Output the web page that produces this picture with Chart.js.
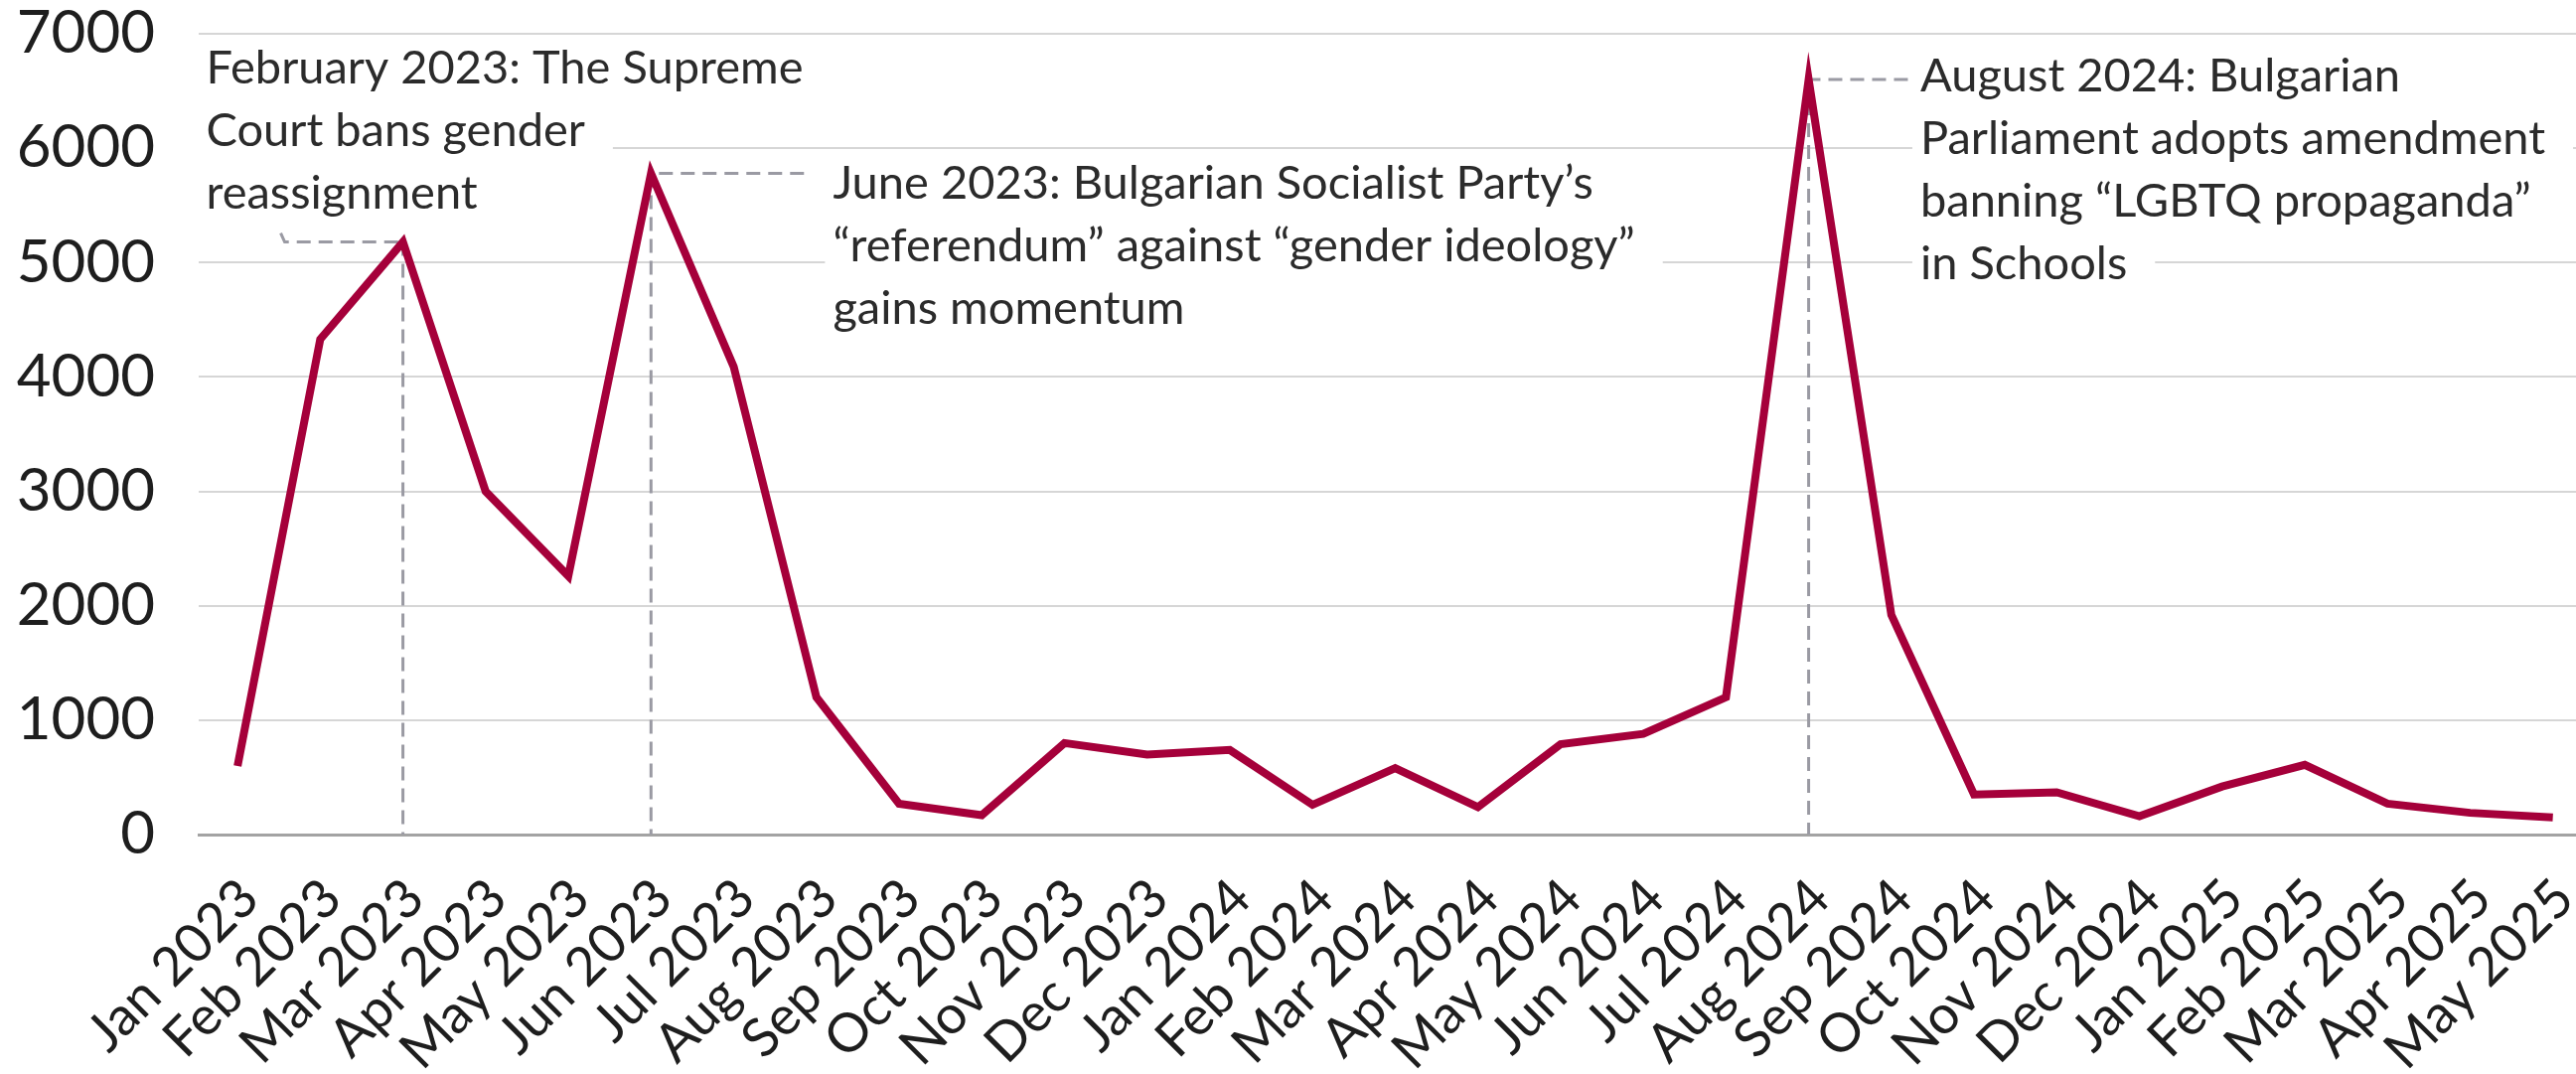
<!DOCTYPE html>
<html>
<head>
<meta charset="utf-8">
<script src="https://cdn.jsdelivr.net/npm/chart.js@4.4.1/dist/chart.umd.min.js"></script>
<style>
  html, body { margin:0; padding:0; background:#fff; }
  #wrap { width:2593px; height:1081px; }
</style>
</head>
<body>
<div id="wrap"><canvas id="chart" width="2593" height="1081"></canvas></div>
<script>
// months on the x axis
const months = [
  'Jan 2023','Feb 2023','Mar 2023','Apr 2023','May 2023','Jun 2023','Jul 2023','Aug 2023','Sep 2023','Oct 2023','Nov 2023','Dec 2023',
  'Jan 2024','Feb 2024','Mar 2024','Apr 2024','May 2024','Jun 2024','Jul 2024','Aug 2024','Sep 2024','Oct 2024','Nov 2024','Dec 2024',
  'Jan 2025','Feb 2025','Mar 2025','Apr 2025','May 2025'
];
// monthly counts
const counts = [
  600, 4330, 5180, 3000, 2260, 5780, 4090, 1200, 270, 170, 800, 700,
  740, 260, 580, 240, 790, 880, 1200, 6600, 1920, 350, 370, 160,
  420, 610, 270, 190, 150
];
const yTicks = [0, 1000, 2000, 3000, 4000, 5000, 6000, 7000];

// annotations: which month they point at, and the text lines
const noteIndex = [2, 5, 19];
const noteLines = [
  ['February 2023: The Supreme', 'Court bans gender', 'reassignment'],
  ['June 2023: Bulgarian Socialist Party\u2019s', '\u201Creferendum\u201D against \u201Cgender ideology\u201D', 'gains momentum'],
  ['August 2024: Bulgarian', 'Parliament adopts amendment', 'banning \u201CLGBTQ propaganda\u201D', 'in Schools']
];
// text anchor (x in month index, y = value at first baseline) and where the connector ends
const noteTextX = [-0.38, 7.2, 20.35];
const noteTextY = [6567, 5562, 6497];
const noteLinkX = [0.57, 6.85, 20.2];

const FONT = 'Lato, "Open Sans", sans-serif';
const RED = '#a5003a';
const NOTE_SIZE = 47, NOTE_LH = 63;

const notesPlugin = {
  id: 'notes',
  beforeDatasetsDraw(chart) {
    const {ctx, scales:{x, y}} = chart;
    ctx.save();
    // white boxes behind the text (they hide the grid)
    ctx.font = `${NOTE_SIZE}px ${FONT}`;
    noteLines.forEach((lines, n) => {
      const tx = x.getPixelForValue(noteTextX[n]);
      const ty = y.getPixelForValue(noteTextY[n]);
      lines.forEach((s, k) => {
        const w = ctx.measureText(s).width;
        ctx.fillStyle = '#fff';
        ctx.fillRect(tx - 8, ty + k*NOTE_LH - 46, w + 36, NOTE_LH);
      });
    });
    // dashed drop lines and connectors
    ctx.strokeStyle = '#9a9aa3';
    ctx.lineWidth = 3;
    ctx.setLineDash([14, 8]);
    noteIndex.forEach((i, n) => {
      const px = x.getPixelForValue(i);
      const py = y.getPixelForValue(counts[i]);
      ctx.beginPath();
      ctx.moveTo(px, py);
      ctx.lineTo(px, y.getPixelForValue(0));
      ctx.stroke();
      const lx = x.getPixelForValue(noteLinkX[n]);
      ctx.beginPath();
      if (n === 0) ctx.moveTo(lx - 4, py - 9); else ctx.moveTo(lx, py);
      ctx.lineTo(lx, py);
      ctx.lineTo(px, py);
      ctx.stroke();
    });
    ctx.restore();
  },
  afterDatasetsDraw(chart) {
    const {ctx, scales:{x, y}} = chart;
    ctx.save();
    ctx.font = `${NOTE_SIZE}px ${FONT}`;
    ctx.fillStyle = '#2b2b2b';
    ctx.textBaseline = 'alphabetic';
    ctx.textAlign = 'left';
    noteLines.forEach((lines, n) => {
      const tx = x.getPixelForValue(noteTextX[n]);
      const ty = y.getPixelForValue(noteTextY[n]);
      lines.forEach((s, k) => ctx.fillText(s, tx, ty + k*NOTE_LH));
    });
    ctx.restore();
  }
};

new Chart(document.getElementById('chart'), {
  type: 'line',
  data: {
    datasets: [{
      data: counts.map((v, i) => ({x: i, y: v})),
      borderColor: RED,
      borderWidth: 8,
      pointRadius: 0,
      tension: 0,
      fill: false
    }]
  },
  options: {
    responsive: false,
    animation: false,
    devicePixelRatio: 1,
    layout: { padding: 0 },
    plugins: { legend: { display: false }, tooltip: { enabled: false } },
    scales: {
      x: {
        type: 'linear',
        min: -0.47,
        max: 28.28,
        afterBuildTicks: s => { s.ticks = months.map((m, i) => ({value: i})); },
        afterFit: s => { s.height = 241; s.paddingLeft = 0; s.paddingRight = 0; s.paddingTop = 0; s.paddingBottom = 0; },
        ticks: {
          callback: v => months[v] || '',
          autoSkip: false,
          minRotation: 45, maxRotation: 45,
          padding: 32,
          labelOffset: 12,
          color: '#1e1e1e',
          font: { family: FONT, size: 54 }
        },
        grid: { display: false, drawTicks: false },
        border: { display: true, color: '#a3a3a3', width: 3 }
      },
      y: {
        min: 0, max: 7000,
        afterBuildTicks: s => { s.ticks = yTicks.map(v => ({value: v})); },
        afterFit: s => { s.width = 200; s.paddingTop = 34; s.paddingBottom = 0; },
        ticks: {
          callback: v => String(v),
          padding: 44,
          color: '#1e1e1e',
          font: { family: FONT, size: 60 }
        },
        grid: { color: '#d6d6d6', lineWidth: 2, drawTicks: false },
        border: { display: false }
      }
    }
  },
  plugins: [notesPlugin]
});
</script>
</body>
</html>
